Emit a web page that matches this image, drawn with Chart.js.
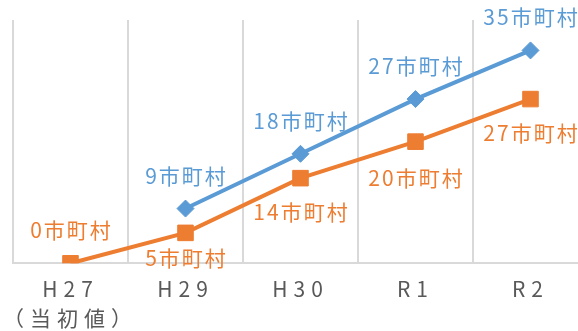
<!DOCTYPE html>
<html lang="ja">
<head>
<meta charset="utf-8">
<script src="https://cdn.jsdelivr.net/npm/chart.js@4/dist/chart.umd.min.js"></script>
<style>
  html, body { margin: 0; padding: 0; background: #fff; overflow: hidden; }
  #wrap { position: relative; width: 600px; height: 344px; }
</style>
</head>
<body>
<div id="wrap"><canvas id="c"></canvas></div>
<script>
// Fiscal-year categories (the first one is the baseline year)
const categories = [["H27", "（当初値）"], "H29", "H30", "R1", "R2"];
// Number of municipalities per year for each series
const blueValues = [null, 9, 18, 27, 35];
const orangeValues = [0, 5, 14, 20, 27];
const unitLabel = "市町村";

// Vertical offsets (px) of the value labels from their points
const blueLabelOffsets = [0, -33, -33, -33, -33];
const orangeLabelOffsets = [-33, 25, 34, 36, 34];

const BLUE = "#5B9BD5";
const ORANGE = "#ED7D31";
const FONT = "'Noto Sans CJK JP', 'Noto Sans', sans-serif";

// Wider letter spacing for axis ticks, none for marks, slight for value labels
const spacingPlugin = {
  id: "spacing",
  beforeDraw(chart) { chart.ctx.letterSpacing = "6px"; },
  beforeDatasetsDraw(chart) { chart.ctx.letterSpacing = "0px"; }
};

const valueLabels = {
  id: "valueLabels",
  afterDatasetsDraw(chart) {
    const ctx = chart.ctx;
    ctx.save();
    ctx.letterSpacing = "2px";
    ctx.font = "21px " + FONT;
    ctx.textAlign = "center";
    ctx.textBaseline = "middle";
    chart.data.datasets.forEach((ds, di) => {
      const meta = chart.getDatasetMeta(di);
      meta.data.forEach((pt, i) => {
        const v = ds.data[i];
        if (v === null || v === undefined) return;
        ctx.fillStyle = ds.borderColor;
        ctx.fillText(v + unitLabel, pt.x + 1, pt.y + ds.labelOffsets[i]);
      });
    });
    ctx.restore();
  }
};

new Chart(document.getElementById("c"), {
  type: "line",
  data: {
    labels: categories,
    datasets: [
      {
        label: "blue",
        data: blueValues,
        labelOffsets: blueLabelOffsets,
        borderColor: BLUE,
        backgroundColor: BLUE,
        borderWidth: 4,
        pointStyle: "rectRot",
        pointRadius: 8.5,
        pointBorderWidth: 1,
        pointBackgroundColor: BLUE,
        pointBorderColor: BLUE,
        spanGaps: false
      },
      {
        label: "orange",
        data: orangeValues,
        labelOffsets: orangeLabelOffsets,
        borderColor: ORANGE,
        backgroundColor: ORANGE,
        borderWidth: 4,
        pointStyle: "rect",
        pointRadius: 11,
        pointBorderWidth: 1,
        pointBackgroundColor: ORANGE,
        pointBorderColor: ORANGE
      }
    ]
  },
  options: {
    responsive: true,
    maintainAspectRatio: false,
    animation: false,
    layout: { padding: { left: 13, right: 12, top: 20, bottom: 0 } },
    plugins: { legend: { display: false }, tooltip: { enabled: false } },
    scales: {
      x: {
        offset: true,
        grid: { color: "#D9D9D9", lineWidth: 2, drawTicks: false, offset: true },
        border: { display: true, color: "#D9D9D9", width: 2 },
        ticks: {
          color: "#595959",
          padding: 12,
          maxRotation: 0,
          autoSkip: false,
          font: { family: FONT, size: 21, lineHeight: 1.35 }
        }
      },
      y: {
        display: false,
        min: 0,
        max: 40
      }
    }
  },
  plugins: [spacingPlugin, valueLabels]
});
</script>
</body>
</html>
